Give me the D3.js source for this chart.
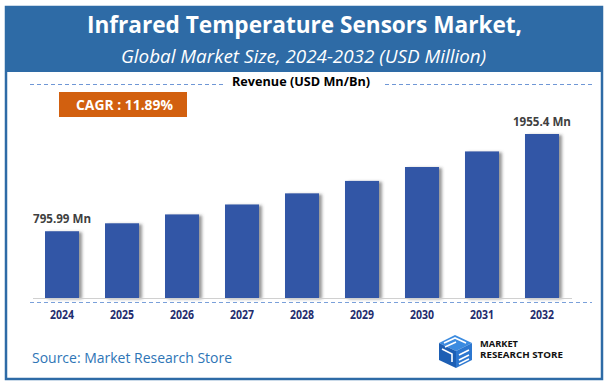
<!DOCTYPE html>
<html>
<head>
<meta charset="utf-8">
<script src="https://cdn.jsdelivr.net/npm/d3@7"></script>
<style>
  html, body { margin: 0; padding: 0; background: #fff; }
  svg { display: block; font-family: "Open Sans", sans-serif; }
</style>
</head>
<body>
<svg id="chart" width="609" height="387"></svg>
<script>
// values
const years = ["2024", "2025", "2026", "2027", "2028", "2029", "2030", "2031", "2032"];
const revenue = [795.99, 890.6, 996.5, 1115.0, 1247.6, 1395.9, 1561.9, 1747.6, 1955.4];
const valueLabels = { "2024": "795.99 Mn", "2032": "1955.4 Mn" };
const cagrText = "CAGR : 11.89%";

const blue = "#2e6ba6";
const barColor = "#3357a6";

const svg = d3.select("#chart");

// drop shadow for the bars
const defs = svg.append("defs");
const shadow = defs.append("filter")
    .attr("id", "barShadow")
    .attr("x", "-20%").attr("y", "-10%")
    .attr("width", "160%").attr("height", "120%");
shadow.append("feDropShadow")
    .attr("dx", 3).attr("dy", 1)
    .attr("stdDeviation", 1.6)
    .attr("flood-color", "#444")
    .attr("flood-opacity", 0.55);

// frame + header band
svg.append("rect")
    .attr("x", 6).attr("y", 7)
    .attr("width", 596).attr("height", 372)
    .attr("fill", "#fff")
    .attr("stroke", blue).attr("stroke-width", 2.5);
svg.append("rect")
    .attr("x", 6).attr("y", 7)
    .attr("width", 596).attr("height", 65)
    .attr("fill", blue);

svg.append("text")
    .attr("x", 87).attr("y", 33)
    .attr("textLength", 435).attr("lengthAdjust", "spacingAndGlyphs")
    .attr("fill", "#fff").attr("font-weight", 700).attr("font-size", 23)
    .text("Infrared Temperature Sensors Market,");
svg.append("text")
    .attr("x", 121).attr("y", 63)
    .attr("textLength", 365).attr("lengthAdjust", "spacingAndGlyphs")
    .attr("fill", "#fff").attr("font-style", "italic").attr("font-size", 18)
    .text("Global Market Size, 2024-2032 (USD Million)");

// revenue caption with dashed rules
svg.append("text")
    .attr("x", 232).attr("y", 86)
    .attr("textLength", 138).attr("lengthAdjust", "spacingAndGlyphs")
    .attr("fill", "#000").attr("font-weight", 700).attr("font-size", 12)
    .text("Revenue (USD Mn/Bn)");
[[30, 223], [385, 592]].forEach(([a, b]) => {
    svg.append("line")
        .attr("x1", a).attr("x2", b).attr("y1", 84.5).attr("y2", 84.5)
        .attr("stroke", "#6f97d6").attr("stroke-width", 1)
        .attr("stroke-dasharray", "4,3");
});

// CAGR badge
svg.append("rect")
    .attr("x", 59).attr("y", 92)
    .attr("width", 128).attr("height", 25)
    .attr("fill", "#d2600f");
svg.append("text")
    .attr("x", 76).attr("y", 110)
    .attr("textLength", 97).attr("lengthAdjust", "spacingAndGlyphs")
    .attr("fill", "#fff").attr("font-weight", 700).attr("font-size", 14)
    .text(cagrText);

// scales
const x = d3.scaleBand()
    .domain(years)
    .range([32, 572])
    .paddingInner(0.433)
    .paddingOuter(0.2167);
const y = d3.scaleLinear()
    .domain([0, d3.max(revenue)])
    .range([298, 134]);

const data = years.map((year, i) => ({ year, value: revenue[i] }));

// bars
svg.append("g")
    .selectAll("rect")
    .data(data)
    .join("rect")
    .attr("x", (d) => x(d.year))
    .attr("y", (d) => y(d.value))
    .attr("width", x.bandwidth())
    .attr("height", (d) => y(0) - y(d.value))
    .attr("fill", barColor)
    .attr("filter", "url(#barShadow)");

// baseline
svg.append("line")
    .attr("x1", 33).attr("x2", 572)
    .attr("y1", y(0) + 0.5).attr("y2", y(0) + 0.5)
    .attr("stroke", "#d0d0d0").attr("stroke-width", 1);

// dashed rule under the bars
svg.append("line")
    .attr("x1", 30).attr("x2", 592)
    .attr("y1", 302.5).attr("y2", 302.5)
    .attr("stroke", "#7aa0da").attr("stroke-width", 1)
    .attr("stroke-dasharray", "4,3");

// year axis
const axis = svg.append("g")
    .attr("transform", "translate(0,305)")
    .call(d3.axisBottom(x).tickSize(0).tickPadding(6));
axis.select(".domain").remove();
axis.selectAll("text")
    .attr("fill", "#1f2d6e")
    .attr("font-family", "Open Sans, sans-serif")
    .attr("font-weight", 700)
    .attr("font-size", 11.5)
    .attr("textLength", 24)
    .attr("lengthAdjust", "spacingAndGlyphs");

// value labels on first and last bar
svg.append("g")
    .selectAll("text")
    .data(data.filter((d) => valueLabels[d.year]))
    .join("text")
    .attr("x", (d) => x(d.year) + x.bandwidth() / 2)
    .attr("y", (d) => y(d.value) - 8)
    .attr("text-anchor", "middle")
    .attr("textLength", 58).attr("lengthAdjust", "spacingAndGlyphs")
    .attr("fill", "#404040").attr("font-weight", 700).attr("font-size", 12)
    .text((d) => valueLabels[d.year]);

// source
svg.append("text")
    .attr("x", 32).attr("y", 363)
    .attr("textLength", 200).attr("lengthAdjust", "spacingAndGlyphs")
    .attr("fill", "#2e75b6").attr("font-size", 14.5)
    .text("Source: Market Research Store");

// logo
const logo = svg.append("g").attr("transform", "translate(437,334)");
logo.append("path")   // top face
    .attr("d", "M2,9 L18,1 L35,9 L19,17 Z")
    .attr("fill", "#3b8be0");
logo.append("path")   // left face
    .attr("d", "M2,9 L19,17 L19,34 L2,26 Z")
    .attr("fill", "#1d5fb4");
logo.append("path")   // right face
    .attr("d", "M19,17 L35,9 L35,26 L19,34 Z")
    .attr("fill", "#2c77d0");
logo.append("path")
    .attr("d", "M7,9 L18,4 L29,9 M8,13 L19,8 M5,15 L15,20 L15,28 M22,21 L32,16 M22,26 L32,21 M22,30 L32,25")
    .attr("fill", "none").attr("stroke", "#fff").attr("stroke-width", 1.6);
svg.append("text")
    .attr("x", 480).attr("y", 346.5)
    .attr("textLength", 38).attr("lengthAdjust", "spacingAndGlyphs")
    .attr("fill", "#111").attr("font-weight", 700).attr("font-size", 8)
    .text("MARKET");
svg.append("text")
    .attr("x", 480).attr("y", 358)
    .attr("textLength", 83).attr("lengthAdjust", "spacingAndGlyphs")
    .attr("fill", "#111").attr("font-weight", 700).attr("font-size", 8)
    .text("RESEARCH STORE");
</script>
</body>
</html>
